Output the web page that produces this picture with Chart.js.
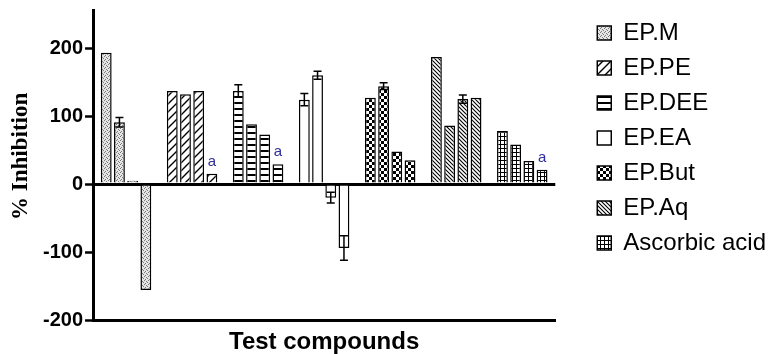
<!DOCTYPE html>
<html lang="en">
<head>
<meta charset="utf-8" />
<title>% Inhibition - Test compounds</title>
<script src="https://cdn.jsdelivr.net/npm/chart.js"></script>
<style>
  html, body { margin: 0; padding: 0; background: #fff; }
</style>
</head>
<body>
<canvas id="inhibitionChart" width="769" height="354"></canvas>
<script>
  // Groups on the x axis, 4 bars each
  const compounds = ['EP.M', 'EP.PE', 'EP.DEE', 'EP.EA', 'EP.But', 'EP.Aq', 'Ascorbic acid'];
  const barNames = ['C1', 'C2', 'C3', 'C4'];

  // % inhibition values per compound
  const epM = [193, 91, 5, -156];
  const epPE = [137, 132, 137, 15];
  const epDEE = [137, 88, 73, 29];
  const epEA = [124, 160, -20, -94];
  const epBut = [127, 144, 48, 35];
  const epAq = [187, 86, 125, 127];
  const ascorbic = [78, 58, 34, 21];

  // error bars (0 = none drawn)
  const errM = [0, 7, 0, 0];
  const errPE = [0, 0, 0, 0];
  const errDEE = [9, 0, 0, 0];
  const errEA = [9, 6, 8, 18];
  const errBut = [0, 5, 0, 0];
  const errAq = [0, 0, 6, 0];
  const errAsc = [0, 0, 0, 0];

  // letter marks above the 4th bar
  const letterMarks = ['', 'a', 'a', '', '', '', 'a'];

  const yTicks = [-200, -100, 0, 100, 200];

  const groupValues = [epM, epPE, epDEE, epEA, epBut, epAq, ascorbic];
  const groupErrors = [errM, errPE, errDEE, errEA, errBut, errAq, errAsc];

  // fill patterns, one per compound
  function makePattern(w, h, draw) {
    const c = document.createElement('canvas');
    c.width = w; c.height = h;
    const g = c.getContext('2d');
    g.fillStyle = '#fff';
    g.fillRect(0, 0, w, h);
    draw(g, w, h);
    return g.createPattern(c, 'repeat');
  }

  const patterns = [
    // stipple
    makePattern(4, 4, function (g) {
      g.fillStyle = '#e6e6e6'; g.fillRect(0, 0, 4, 4);
      g.fillStyle = '#7a7a7a';
      g.fillRect(0, 0, 1, 1); g.fillRect(2, 1, 1, 1); g.fillRect(1, 3, 1, 1); g.fillRect(3, 2, 1, 1);
    }),
    // wide "/" hatch
    makePattern(8, 8, function (g) {
      g.strokeStyle = '#000'; g.lineWidth = 1.4;
      g.beginPath();
      g.moveTo(0, 8); g.lineTo(8, 0);
      g.moveTo(-1, 1); g.lineTo(1, -1);
      g.moveTo(7, 9); g.lineTo(9, 7);
      g.stroke();
    }),
    // horizontal stripes
    makePattern(6, 6, function (g) {
      g.fillStyle = '#000'; g.fillRect(0, 0, 6, 2);
    }),
    // empty
    makePattern(2, 2, function () {}),
    // checkerboard
    makePattern(6, 6, function (g) {
      g.fillStyle = '#000'; g.fillRect(0, 0, 3, 3); g.fillRect(3, 3, 3, 3);
    }),
    // dense "\" hatch
    makePattern(4, 4, function (g) {
      g.strokeStyle = '#000'; g.lineWidth = 1.1;
      g.beginPath();
      g.moveTo(0, 0); g.lineTo(4, 4);
      g.moveTo(-1, 3); g.lineTo(1, 5);
      g.moveTo(3, -1); g.lineTo(5, 1);
      g.stroke();
    }),
    // grid
    makePattern(4, 4, function (g) {
      g.fillStyle = '#000'; g.fillRect(0, 0, 4, 1); g.fillRect(0, 0, 1, 4);
    })
  ];

  const datasets = barNames.map(function (name, k) {
    return {
      label: name,
      data: groupValues.map(function (g) { return g[k]; }),
      backgroundColor: function (ctx) { return patterns[ctx.dataIndex]; },
      borderColor: '#000',
      borderWidth: 1.5,
      categoryPercentage: 0.8,
      barPercentage: 0.82
    };
  });

  const extras = {
    id: 'extras',
    afterDatasetsDraw(chart) {
      const ctx = chart.ctx;
      const y = chart.scales.y;
      ctx.save();
      ctx.strokeStyle = '#000';
      ctx.lineWidth = 1.5;
      chart.data.datasets.forEach(function (ds, k) {
        chart.getDatasetMeta(k).data.forEach(function (bar, i) {
          const err = groupErrors[i][k];
          if (!err) return;
          const v = groupValues[i][k];
          const y1 = y.getPixelForValue(v - err);
          const y2 = y.getPixelForValue(v + err);
          ctx.beginPath();
          ctx.moveTo(bar.x, y1); ctx.lineTo(bar.x, y2);
          ctx.moveTo(bar.x - 4, y1); ctx.lineTo(bar.x + 4, y1);
          ctx.moveTo(bar.x - 4, y2); ctx.lineTo(bar.x + 4, y2);
          ctx.stroke();
        });
      });
      // letters over the last bar of a group
      const last = chart.getDatasetMeta(barNames.length - 1);
      ctx.fillStyle = '#2e2e9a';
      ctx.font = '15px "Liberation Sans", Arial, sans-serif';
      ctx.textAlign = 'center';
      ctx.textBaseline = 'alphabetic';
      letterMarks.forEach(function (m, i) {
        if (!m) return;
        const bar = last.data[i];
        ctx.fillText(m, bar.x, bar.y - 8);
      });
      ctx.restore();
    }
  };

  new Chart(document.getElementById('inhibitionChart'), {
    type: 'bar',
    data: { labels: compounds, datasets: datasets },
    plugins: [extras],
    options: {
      responsive: false,
      animation: false,
      layout: { padding: { top: 10, right: -7, left: 0, bottom: 0 } },
      plugins: {
        tooltip: { enabled: false },
        legend: {
          position: 'right',
          align: 'start',
          maxWidth: 240,
          labels: {
            boxWidth: 14,
            boxHeight: 14,
            padding: 11,
            color: '#000',
            font: { family: '"Liberation Sans", Arial, sans-serif', size: 24 },
            generateLabels: function () {
              return compounds.map(function (c, i) {
                return { text: c, fillStyle: patterns[i], strokeStyle: '#000', lineWidth: 1.5, datasetIndex: 0, hidden: false };
              });
            }
          },
          onClick: function () {}
        }
      },
      scales: {
        x: {
          grid: { display: false, drawTicks: false },
          ticks: { display: false },
          border: { display: true, color: '#000', width: 3 },
          title: {
            display: true,
            text: 'Test compounds',
            color: '#000',
            font: { family: '"Liberation Sans", Arial, sans-serif', size: 24, weight: 'bold', lineHeight: 1 },
            padding: { top: 10, bottom: 0 }
          }
        },
        y: {
          min: -200,
          max: 256,
          afterBuildTicks: function (scale) {
            scale.ticks = yTicks.map(function (v) { return { value: v }; });
          },
          grid: {
            color: function (ctx) { return ctx.tick && ctx.tick.value === 0 ? '#000' : 'rgba(0,0,0,0)'; },
            lineWidth: 3,
            tickColor: '#000',
            tickWidth: 2.5,
            tickLength: 8
          },
          border: { display: true, color: '#000', width: 3 },
          ticks: {
            color: '#000',
            padding: 2,
            font: { family: '"Liberation Sans", Arial, sans-serif', size: 20, weight: 'bold', lineHeight: 0.8 }
          },
          title: {
            display: true,
            text: '   % Inhibition',
            color: '#000',
            font: { family: '"Liberation Serif", "Times New Roman", serif', size: 23, weight: 'bold', lineHeight: 1 },
            padding: { top: 10, bottom: 8 }
          }
        },
        gap: {
          type: 'linear',
          position: 'right',
          display: true,
          grid: { display: false, drawTicks: false },
          border: { display: false },
          ticks: { display: false },
          afterFit: function (scale) { scale.width = 31; }
        }
      }
    }
  });
</script>
</body>
</html>
